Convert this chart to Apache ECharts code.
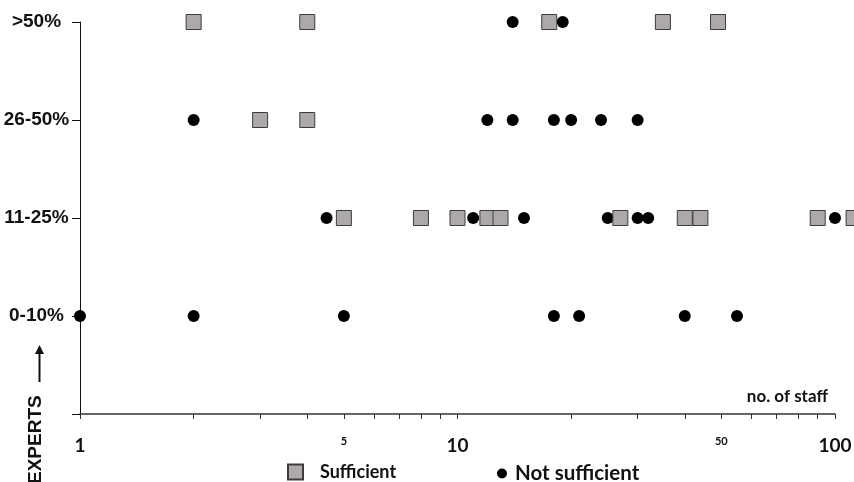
<!DOCTYPE html>
<html><head><meta charset="utf-8">
<script src="https://cdn.jsdelivr.net/npm/echarts@6/dist/echarts.min.js"></script>
<style>html,body{margin:0;padding:0;background:#fff}#c{width:854px;height:482px}</style>
</head><body><div id="c"></div>
<script>
// Expert share categories (y levels 1..4)
const levels = ['0-10%', '11-25%', '26-50%', '>50%'];
// X axis tick marks and labels (no. of staff, log scale)
const xTickValues = [1,2,3,4,5,6,7,8,9,10,20,30,40,50,60,70,80,90,100];
const xLabelValues = [1,5,10,50,100];
// Sufficient (squares): staff numbers per level
const sufficientStaff = [2,4,17.5,35,49, 3,4, 5,8,10,12,13,27,40,44,90,112];
const sufficientLevel = [4,4,4,4,4, 3,3, 2,2,2,2,2,2,2,2,2,2];
// Not sufficient (dots): staff numbers per level
const notSufficientStaff = [14,19, 2,12,14,18,20,24,30, 4.5,11,15,25,30,32,100, 1,2,5,18,21,40,55];
const notSufficientLevel = [4,4, 3,3,3,3,3,3,3, 2,2,2,2,2,2,2, 1,1,1,1,1,1,1];

const pair = (xs, ys) => xs.map((x, i) => [x, ys[i]]);
const chart = echarts.init(document.getElementById('c'));
chart.setOption({
  animation: false,
  backgroundColor: '#fff',
  grid: {left: 80, right: 19, top: 22, bottom: 68, outerBoundsMode: 'none', containLabel: false},
  xAxis: {
    type: 'log', logBase: 10, min: 1, max: 100,
    axisLine: {lineStyle: {color: '#333', width: 1.5}},
    axisTick: {show: true, customValues: xTickValues, length: 5, lineStyle: {color: '#333', width: 1}},
    minorTick: {show: false},
    splitLine: {show: false},
    axisLabel: {
      customValues: xLabelValues, margin: 22,
      formatter: v => (v === 5 || v === 50) ? '{s|' + v + '}' : '{b|' + v + '}',
      rich: {
        b: {fontFamily: 'Lato', fontWeight: 'bold', fontSize: 19, color: '#111'},
        s: {fontFamily: 'Lato', fontWeight: 'bold', fontSize: 11, color: '#111', verticalAlign: 'top', padding: [0, 0, 2, 0]}
      }
    }
  },
  yAxis: {
    type: 'value', min: 0, max: 4, interval: 1,
    axisLine: {show: true, lineStyle: {color: '#111', width: 1}},
    axisTick: {show: true, length: 8, lineStyle: {color: '#111'}},
    splitLine: {show: false},
    axisLabel: {
      margin: 43.5, align: 'center',
      formatter: v => levels[v - 1] || '',
      fontFamily: 'Liberation Sans', fontWeight: 'bold', fontSize: 19, color: '#111'
    }
  },
  legend: [
    {data: ['Sufficient'], left: 287, top: 463, padding: 0, itemWidth: 15, itemHeight: 15,
     textStyle: {fontFamily: 'Lato', fontWeight: 'bold', fontSize: 18, color: '#111', padding: [0, 0, 0, 12]}},
    {data: ['Not sufficient'], left: 497, top: 463, padding: 0, itemWidth: 10, itemHeight: 10, icon: 'circle',
     textStyle: {fontFamily: 'Lato', fontWeight: 'bold', fontSize: 20.5, color: '#111', padding: [0, 0, 0, 3]}}
  ],
  graphic: [
    {type: 'text', right: 26, top: 388, style: {text: 'no. of staff', fontFamily: 'Lato', fontWeight: 'bold', fontSize: 17, fill: '#111'}},
    {type: 'text', x: 26, y: 484, rotation: Math.PI / 2,
     style: {text: 'EXPERTS', fontFamily: 'Liberation Sans', fontWeight: 'bold', fontSize: 19, fill: '#111'}},
    {type: 'line', shape: {x1: 39.5, y1: 352, x2: 39.5, y2: 382}, style: {stroke: '#111', lineWidth: 2}},
    {type: 'polygon', shape: {points: [[39.5, 345], [35, 354], [44, 354]]}, style: {fill: '#111'}}
  ],
  series: [
    {name: 'Not sufficient', type: 'scatter', clip: false, z: 2,
     symbol: 'circle', symbolSize: 12, itemStyle: {color: '#000', opacity: 1},
     data: pair(notSufficientStaff, notSufficientLevel)},
    {name: 'Sufficient', type: 'scatter', clip: false, z: 3,
     symbol: 'rect', symbolSize: 15, itemStyle: {color: '#ADA9A9', borderColor: '#3c3c3c', borderWidth: 1, opacity: 1},
     data: pair(sufficientStaff, sufficientLevel)}
  ]
});
</script></body></html>
